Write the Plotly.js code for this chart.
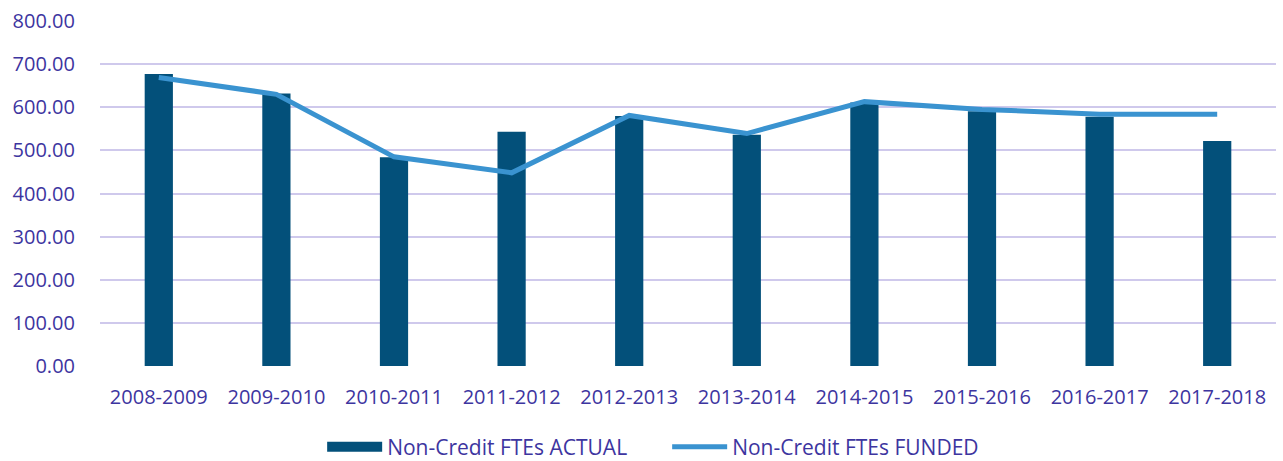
<!DOCTYPE html>
<html>
<head>
<meta charset="utf-8">
<script src="https://cdn.plot.ly/plotly-3.0.1.min.js"></script>
<style>html,body{margin:0;padding:0;background:#fff}#chart{width:1283px;height:461px}</style>
</head>
<body>
<div id="chart"></div>
<script>
var years = ["2008-2009","2009-2010","2010-2011","2011-2012","2012-2013","2013-2014","2014-2015","2015-2016","2016-2017","2017-2018"];
var actual = [677, 632, 484, 543, 580, 536, 611, 591, 578, 522];
var funded = [669, 630, 485, 448, 581, 539, 613, 595, 584, 584];
var yTicks = [0,100,200,300,400,500,600,700,800];

var txt = "#3d35a0";
var barColor = "#03507a";
var lineColor = "#3a93d0";
var traces = [
  {type:"bar", x:years, y:actual, name:"Non-Credit FTEs ACTUAL",
   marker:{color:barColor}, showlegend:false},
  {type:"scatter", mode:"lines", x:years, y:funded, name:"Non-Credit FTEs FUNDED",
   line:{color:lineColor, width:5}, showlegend:false},
  // legend-only entries (no data drawn)
  {type:"scatter", mode:"lines", x:[null], y:[null], name:"Non-Credit FTEs ACTUAL",
   line:{color:barColor, width:13}},
  {type:"scatter", mode:"lines", x:[null], y:[null], name:"Non-Credit FTEs FUNDED",
   line:{color:lineColor, width:5}}
];
var layout = {
  width:1283, height:461,
  margin:{l:100, r:7, t:21, b:95},
  paper_bgcolor:"#fff", plot_bgcolor:"#fff",
  font:{family:"Open Sans, sans-serif", color:txt, size:20},
  bargap:0.76,
  xaxis:{type:"category", showgrid:false, zeroline:false, showline:false,
         ticks:"", tickfont:{size:20, color:txt}, ticklabelstandoff:17},
  yaxis:{range:[0,800], tickvals:yTicks, ticktext:yTicks.map(function(v){return v.toFixed(2);}),
         showgrid:true, gridcolor:"#cfc9ec", gridwidth:2, zeroline:false, showline:false,
         tickfont:{size:20, color:txt}, ticklabelstandoff:24},
  showlegend:true,
  legend:{orientation:"h", xref:"container", yref:"container", x:0.52, xanchor:"center",
          y:0.03, yanchor:"middle", font:{size:21, color:txt}, itemwidth:55,
          entrywidth:275, entrywidthmode:"pixels"},
  hovermode:false
};
Plotly.newPlot("chart", traces, layout, {displayModeBar:false, staticPlot:true});
</script>
</body>
</html>
